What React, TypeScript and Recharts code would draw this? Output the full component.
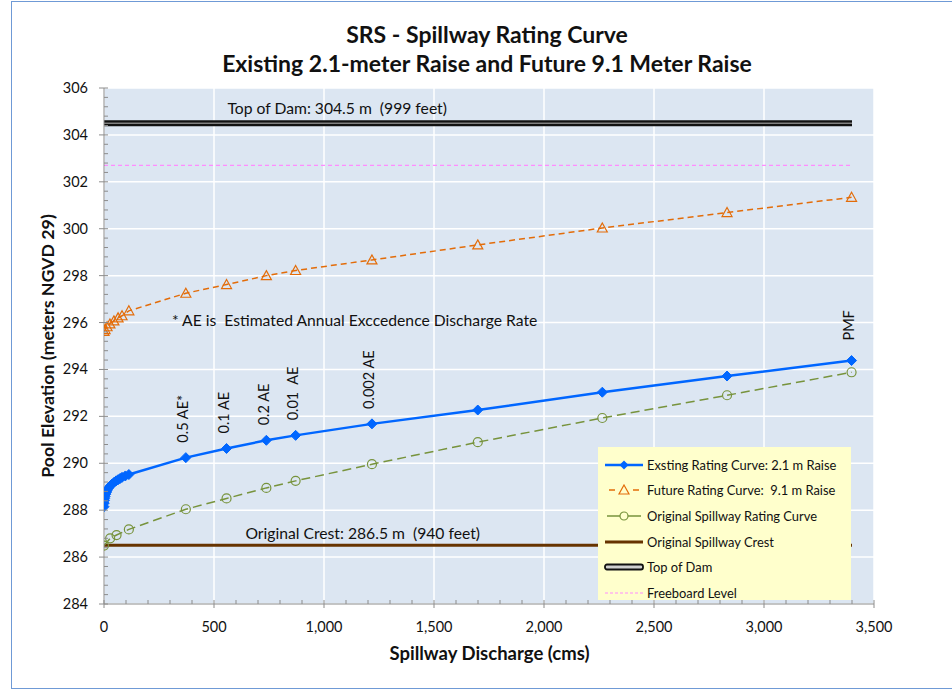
import React from 'react';
import { LineChart, Line, XAxis, YAxis, CartesianGrid, ReferenceDot, LabelList } from 'recharts';

// ---------- data ----------
const existingX = [0, 1, 2, 3, 5, 8, 11, 14, 20, 27, 36, 45, 55, 64, 73, 82, 97, 113, 372, 557, 738, 871, 1218, 1699, 2265, 2832, 3398];
const existingY = [288.15, 288.3, 288.42, 288.5, 288.58, 288.68, 288.76, 288.83, 288.93, 289.02, 289.11, 289.18, 289.25, 289.3, 289.35, 289.4, 289.46, 289.52, 290.24, 290.63, 290.98, 291.19, 291.68, 292.27, 293.03, 293.72, 294.38];
const existingLabels: Record<number, string> = { 372: '0.5 AE*', 557: '0.1 AE', 738: '0.2 AE', 871: '0.01  AE', 1218: '0.002 AE', 3398: 'PMF' };

const futureX = [0, 5, 14, 27, 45, 64, 82, 113, 372, 557, 738, 871, 1218, 1699, 2265, 2832, 3398];
const futureY = [295.62, 295.7, 295.82, 295.94, 296.07, 296.2, 296.29, 296.5, 297.25, 297.62, 298.0, 298.22, 298.67, 299.31, 300.03, 300.69, 301.34];

const originalX = [0, 28, 57, 113, 372, 557, 738, 871, 1218, 1699, 2265, 2832, 3398];
const originalY = [286.49, 286.8, 286.94, 287.18, 288.04, 288.5, 288.95, 289.25, 289.96, 290.9, 291.93, 292.9, 293.88];

const levelX = [0, 3400];
const crestElev = 286.5;
const topOfDamElev = 304.5;
const freeboardElev = 302.7;

const xTicks = [0, 500, 1000, 1500, 2000, 2500, 3000, 3500];
const yTicks = [284, 286, 288, 290, 292, 294, 296, 298, 300, 302, 304, 306];
const xMinorPerMajor = 5;
const yMinorPerMajor = 5;

const notes = [
  { x: 1060, y: 305.15, text: 'Top of Dam: 304.5 m  (999 feet)' },
  { x: 1176, y: 287.03, text: 'Original Crest: 286.5 m  (940 feet)' },
  { x: 1139, y: 296.11, text: '* AE is  Estimated Annual Exccedence Discharge Rate' },
];

const legendItems = [
  { key: 'existing', name: 'Exsting Rating Curve: 2.1 m Raise' },
  { key: 'future', name: 'Future Rating Curve:  9.1 m Raise' },
  { key: 'original', name: 'Original Spillway Rating Curve' },
  { key: 'crest', name: 'Original Spillway Crest' },
  { key: 'dam', name: 'Top of Dam' },
  { key: 'freeboard', name: 'Freeboard Level' },
];

// ---------- derived tables ----------
const existingData = existingX.map((x, i) => ({ x, y: existingY[i], label: existingLabels[x] }));
const futureData = futureX.map((x, i) => ({ x, y: futureY[i] }));
const originalData = originalX.map((x, i) => ({ x, y: originalY[i] }));
const crestData = levelX.map((x) => ({ x, y: crestElev }));
const damData = levelX.map((x) => ({ x, y: topOfDamElev }));
const freeboardData = levelX.map((x) => ({ x, y: freeboardElev }));

const withMinor = (major: number[], n: number) => {
  const out: number[] = [];
  major.forEach((v, i) => {
    out.push(v);
    if (i < major.length - 1) {
      const step = (major[i + 1] - v) / n;
      for (let k = 1; k < n; k++) out.push(Math.round((v + step * k) * 1000) / 1000);
    }
  });
  return out;
};
const xAllTicks = withMinor(xTicks, xMinorPerMajor);
const yAllTicks = withMinor(yTicks, yMinorPerMajor);

const FONT = 'Lato, "Open Sans", sans-serif';
const BLUE = '#0066FF';
const ORANGE = '#E36C09';
const GREEN = '#77933C';
const BROWN = '#663300';
const PINK = '#FF8CFF';
const AXIS = '#8C8C8C';

const isMajor = (v: number, list: number[]) => list.some((m) => Math.abs(m - v) < 1e-6);

const XTick = (props: any) => {
  const { x, y, payload } = props;
  const v = payload.value;
  const major = isMajor(v, xTicks);
  return (
    <g>
      <line x1={x} x2={x} y1={y - 4} y2={major ? y + 4 : y} stroke={AXIS} strokeWidth={1} />
      {major && (
        <text x={x} y={y + 28} textAnchor="middle" fontSize={14.5} fontFamily={FONT} fill="#111">
          {v.toLocaleString('en-US')}
        </text>
      )}
    </g>
  );
};

const YTick = (props: any) => {
  const { x, y, payload } = props;
  const v = payload.value;
  const major = isMajor(v, yTicks);
  return (
    <g>
      <line x1={major ? x - 5 : x} x2={x + 4} y1={y} y2={y} stroke={AXIS} strokeWidth={1} />
      {major && (
        <text x={x - 16} y={y} dy={5} textAnchor="end" fontSize={14.5} fontFamily={FONT} fill="#111">
          {v}
        </text>
      )}
    </g>
  );
};

const Diamond = (props: any) => {
  const { cx, cy } = props;
  if (cx == null || cy == null) return null;
  const r = 5;
  return <path d={`M${cx},${cy - r}L${cx + r},${cy}L${cx},${cy + r}L${cx - r},${cy}Z`} fill={BLUE} stroke={BLUE} strokeWidth={1} />;
};

const Triangle = (props: any) => {
  const { cx, cy } = props;
  if (cx == null || cy == null) return null;
  const r = 5;
  return (
    <path
      d={`M${cx},${cy - r}L${cx + r},${cy + r * 0.8}L${cx - r},${cy + r * 0.8}Z`}
      fill="none"
      stroke={ORANGE}
      strokeWidth={1.2}
    />
  );
};

const Circle = (props: any) => {
  const { cx, cy } = props;
  if (cx == null || cy == null) return null;
  return <circle cx={cx} cy={cy} r={4.5} fill="none" stroke={GREEN} strokeWidth={1.2} />;
};

const AeLabel = (props: any) => {
  const { x, y, value } = props;
  if (!value) return null;
  const gap = value === 'PMF' ? 20 : 15;
  const tx = x - 3;
  const ty = y - gap;
  return (
    <text
      x={tx}
      y={ty}
      transform={`rotate(-90 ${tx} ${ty})`}
      textAnchor="start"
      dominantBaseline="central"
      fontSize={14.5}
      fontFamily={FONT}
      fill="#111"
      style={{ whiteSpace: 'pre' }}
    >
      {value}
    </text>
  );
};

const LegendIcon = ({ k }: { k: string }) => {
  const w = 40;
  const h = 12;
  const m = h / 2;
  switch (k) {
    case 'existing':
      return (
        <svg width={w} height={h}>
          <line x1={1} x2={w - 1} y1={m} y2={m} stroke={BLUE} strokeWidth={2.5} />
          <path d={`M20,${m - 4.5}L24.5,${m}L20,${m + 4.5}L15.5,${m}Z`} fill={BLUE} />
        </svg>
      );
    case 'future':
      return (
        <svg width={w} height={h}>
          <line x1={5} x2={11} y1={m} y2={m} stroke={ORANGE} strokeWidth={1.5} />
          <line x1={29} x2={35} y1={m} y2={m} stroke={ORANGE} strokeWidth={1.5} />
          <path d={`M20,${m - 5}L25,${m + 4}L15,${m + 4}Z`} fill="none" stroke={ORANGE} strokeWidth={1.2} />
        </svg>
      );
    case 'original':
      return (
        <svg width={w} height={h}>
          <line x1={3} x2={37} y1={m} y2={m} stroke={GREEN} strokeWidth={1.5} />
          <circle cx={20} cy={m} r={4} fill="#FFFFCC" stroke={GREEN} strokeWidth={1.2} />
        </svg>
      );
    case 'crest':
      return (
        <svg width={w} height={h}>
          <line x1={1} x2={w - 1} y1={m} y2={m} stroke={BROWN} strokeWidth={3} />
        </svg>
      );
    case 'dam':
      return (
        <svg width={w} height={h}>
          <rect x={1} y={m - 2.5} width={w - 2} height={5} rx={2} fill="#D0D0D0" stroke="#111" strokeWidth={1.8} />
        </svg>
      );
    default:
      return (
        <svg width={w} height={h}>
          <line x1={1} x2={w - 1} y1={m} y2={m} stroke={PINK} strokeWidth={1} strokeDasharray="3 2" />
        </svg>
      );
  }
};

const NoteShape = (text: string) => (props: any) => {
  const { cx, cy } = props;
  return (
    <text x={cx} y={cy} textAnchor="middle" dominantBaseline="central" fontSize={15.7} fontFamily={FONT} fill="#111" style={{ whiteSpace: 'pre' }}>
      {text}
    </text>
  );
};

export default function App() {
  return (
    <div style={{ position: 'absolute', left: 0, top: 0, width: 952, height: 698, background: '#fff', fontFamily: FONT, overflow: 'hidden' }}>
      <div style={{ position: 'absolute', left: 11, top: 1, width: 960, height: 688, border: '1px solid #6F9AD6', boxSizing: 'border-box' }} />
      <div style={{ position: 'absolute', left: 0, top: 20, width: 974, textAlign: 'center', fontSize: 23, fontWeight: 700, color: '#111', lineHeight: '29px' }}>
        SRS - Spillway Rating Curve
        <br />
        Existing 2.1-meter Raise and Future 9.1 Meter Raise
      </div>
      <div style={{ position: 'absolute', left: 104, width: 771, top: 642, textAlign: 'center', fontSize: 18.5, fontWeight: 700, color: '#111' }}>
        Spillway Discharge (cms)
      </div>
      <div
        style={{
          position: 'absolute',
          left: 47,
          top: 346,
          transform: 'translate(-50%, -50%) rotate(-90deg)',
          whiteSpace: 'nowrap',
          fontSize: 17.8,
          fontWeight: 700,
          color: '#111',
        }}
      >
        Pool Elevation (meters NGVD 29)
      </div>
      <div style={{ position: 'absolute', left: 0, top: 0 }}>
        <LineChart width={952} height={698} margin={{ top: 88, right: 78, bottom: 64, left: 44 }}>
          <CartesianGrid fill="#DCE6F2" fillOpacity={1} stroke="#FFFFFF" strokeWidth={1.5} horizontalValues={yTicks} verticalValues={xTicks} />
          <XAxis
            type="number"
            dataKey="x"
            domain={[0, 3500]}
            ticks={xAllTicks}
            interval={0}
            height={30}
            tickSize={0}
            tickMargin={0}
            tickLine={false}
            tick={<XTick />}
            axisLine={{ stroke: AXIS }}
            allowDataOverflow
          />
          <YAxis
            type="number"
            dataKey="y"
            domain={[284, 306]}
            ticks={yAllTicks}
            interval={0}
            width={60}
            tickSize={0}
            tickMargin={0}
            tickLine={false}
            tick={<YTick />}
            axisLine={{ stroke: AXIS }}
            allowDataOverflow
          />
          <Line data={crestData} dataKey="y" type="linear" stroke={BROWN} strokeWidth={3} dot={false} isAnimationActive={false} />
          <Line data={damData} dataKey="y" type="linear" stroke="#111" strokeWidth={6} dot={false} isAnimationActive={false} />
          <Line data={damData} dataKey="y" type="linear" stroke="#B8B8B8" strokeWidth={1} dot={false} isAnimationActive={false} />
          <Line data={freeboardData} dataKey="y" type="linear" stroke={PINK} strokeWidth={1.2} strokeDasharray="4 3" dot={false} isAnimationActive={false} />
          <Line data={originalData} dataKey="y" type="linear" stroke={GREEN} strokeWidth={1.5} strokeDasharray="9 5" dot={<Circle />} isAnimationActive={false} />
          <Line data={futureData} dataKey="y" type="linear" stroke={ORANGE} strokeWidth={1.5} strokeDasharray="6 4" dot={<Triangle />} isAnimationActive={false} />
          <Line data={existingData} dataKey="y" type="linear" stroke={BLUE} strokeWidth={2.5} dot={<Diamond />} isAnimationActive={false}>
            <LabelList dataKey="label" content={<AeLabel />} />
          </Line>
          {notes.map((n, i) => (
            <ReferenceDot key={i} x={n.x} y={n.y} r={0} shape={NoteShape(n.text)} />
          ))}
        </LineChart>
      </div>
      <div
        style={{
          position: 'absolute',
          left: 598,
          top: 447,
          width: 253,
          height: 153,
          background: '#FFFFCC',
          boxSizing: 'border-box',
          padding: '5px 0 0 6px',
        }}
      >
        {legendItems.map((it) => (
          <div key={it.key} style={{ display: 'flex', alignItems: 'center', height: 25.6, fontSize: 12.9, color: '#111', whiteSpace: 'pre' }}>
            <LegendIcon k={it.key} />
            <span style={{ marginLeft: 3 }}>{it.name}</span>
          </div>
        ))}
      </div>
    </div>
  );
}
